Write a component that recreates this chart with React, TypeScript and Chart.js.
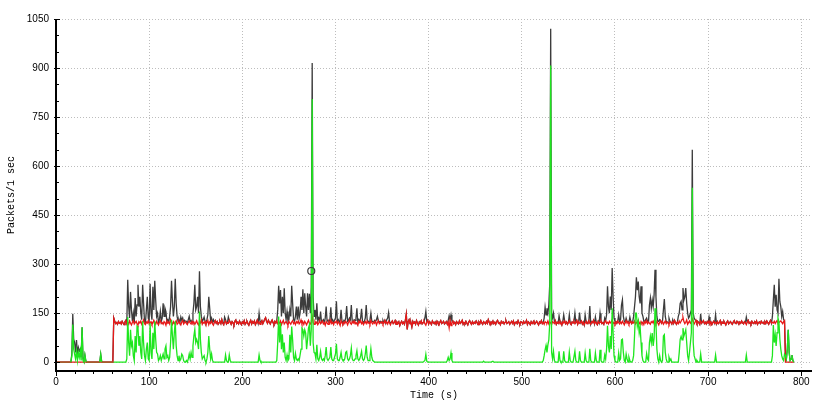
import React, { useEffect, useRef } from "react";
import { Chart, registerables } from "chart.js";

Chart.register(...registerables);

// Packets per 1-second interval, index = second (0 .. 792)
const totalPackets: number[] = [
  0,0,0,0,0,0,0,0,0,0, // 0
  0,0,0,0,0,0,0,25,148,70, // 10
  60,30,68,25,45,35,40,15,107,10, // 20
  3,22,5,0,0,0,0,0,0,0, // 30
  0,0,0,0,0,0,0,0,24,3, // 40
  0,0,0,0,0,0,0,0,0,0, // 50
  0,0,135,126,118,121,116,124,119,122, // 60
  117,125,120,115,123,128,118,252,170,135, // 70
  215,160,125,150,120,196,140,175,237,170, // 80
  200,150,130,237,180,125,120,160,200,135, // 90
  125,240,150,130,231,160,249,190,140,150, // 100
  120,130,155,125,135,180,140,165,155,125, // 110
  130,123,140,170,249,185,140,170,255,180, // 120
  140,125,130,120,138,128,135,122,128,124, // 130
  125,118,130,140,125,128,120,150,180,237, // 140
  160,170,200,150,278,170,140,125,130,138, // 150
  125,120,130,145,200,165,125,135,122,130, // 160
  122,127,119,124,116,121,125,118,130,120, // 170
  115,138,130,117,121,138,128,122,116,124, // 180
  120,114,125,129,118,122,117,126,120,115, // 190
  123,119,127,116,121,125,118,113,122,128, // 200
  117,124,120,126,115,121,129,119,150,125, // 210
  122,127,118,124,131,136,125,119,128,122, // 220
  117,124,129,121,116,125,120,127,160,234, // 230
  180,221,140,200,150,226,150,130,155,125, // 240
  130,160,140,234,180,130,125,140,170,130, // 250
  170,135,150,200,160,223,150,211,170,140, // 260
  211,160,209,150,230,915,200,140,160,130, // 270
  180,125,135,128,155,122,126,130,121,135, // 280
  170,125,128,125,130,168,125,130,122,128, // 290
  135,186,125,130,122,128,160,125,120,128, // 300
  125,135,172,125,128,135,130,175,125,122, // 310
  130,128,135,165,120,130,125,135,163,125, // 320
  122,125,135,175,130,125,122,130,150,125, // 330
  125,123,128,125,130,140,127,122,125,120, // 340
  124,128,121,128,119,130,135,152,124,120, // 350
  122,126,118,121,127,116,123,119,124,112, // 360
  120,125,118,122,116,128,147,100,124,130, // 370
  118,121,108,125,119,123,116,127,120,114, // 380
  123,119,126,117,121,125,135,155,125,128, // 390
  117,124,120,115,126,121,118,123,116,125, // 400
  119,114,122,127,118,121,125,117,120,124, // 410
  116,128,142,130,145,126,126,118,122,115, // 420
  124,120,117,126,119,122,128,116,121,118, // 430
  125,119,114,123,127,120,116,124,118,122, // 440
  119,126,121,115,123,118,127,120,116,124, // 450
  121,117,125,119,130,122,115,123,120,126, // 460
  118,122,116,124,128,119,121,115,125,120, // 470
  123,117,122,127,118,121,124,116,120,125, // 480
  119,126,115,121,123,118,127,120,116,124, // 490
  122,117,125,119,121,128,116,123,120,115, // 500
  124,118,122,126,117,121,125,119,114,123, // 510
  120,127,118,122,135,168,145,165,150,175, // 520
  240,1020,150,135,150,125,127,116,122,119, // 530
  142,125,121,114,124,145,126,118,123,116, // 540
  121,145,119,115,123,120,125,150,122,128, // 550
  116,124,152,121,126,117,123,114,145,125, // 560
  118,122,127,172,116,124,121,128,117,138, // 570
  120,115,125,119,150,126,118,121,116,135, // 580
  127,145,232,170,150,201,160,288,200,135, // 590
  125,124,119,126,145,125,130,175,191,140, // 600
  125,122,135,125,124,122,138,125,118,123, // 610
  140,170,200,260,220,247,200,180,232,150, // 620
  140,125,125,130,135,125,123,175,196,165, // 630
  190,170,206,283,200,140,125,125,130,127, // 640
  119,124,160,193,140,125,123,120,135,125, // 650
  122,117,130,119,128,121,116,123,140,150, // 660
  180,186,160,227,190,200,227,180,150,135, // 670
  140,150,160,650,150,135,130,128,119,124, // 680
  121,116,148,119,123,127,118,122,117,124, // 690
  120,138,118,123,115,121,125,119,145,117, // 700
  124,118,121,127,116,123,119,125,120,114, // 710
  122,126,117,121,124,119,116,123,127,120, // 720
  118,125,121,116,123,119,126,120,117,124, // 730
  121,138,123,128,119,122,117,125,120,118, // 740
  124,119,126,116,121,123,118,125,120,122, // 750
  117,124,119,126,121,116,123,128,119,140, // 760
  190,237,170,206,160,150,255,185,170,140, // 770
  155,130,127,20,10,40,99,30,5,10, // 780
  22,5,0, // 790
];

const redPackets: number[] = [
  0,0,0,0,0,0,0,0,0,0, // 0
  0,0,0,0,0,0,0,0,0,0, // 10
  0,0,0,0,0,0,0,0,0,0, // 20
  0,0,0,0,0,0,0,0,0,0, // 30
  0,0,0,0,0,0,0,0,0,0, // 40
  0,0,0,0,0,0,0,0,0,0, // 50
  0,0,135,126,118,121,116,124,119,122, // 60
  117,125,120,115,123,128,118,121,116,126, // 70
  119,114,122,127,117,121,125,118,113,124, // 80
  120,126,116,122,129,118,115,123,120,127, // 90
  117,121,124,115,119,128,122,116,125,119, // 100
  114,122,127,118,121,116,124,120,113,126, // 110
  119,123,117,130,121,115,124,118,122,127, // 120
  116,120,125,119,114,123,128,117,121,124, // 130
  118,115,122,126,120,117,125,119,123,116, // 140
  121,127,118,114,124,120,129,116,122,119, // 150
  125,117,121,128,115,123,119,126,118,113, // 160
  122,127,119,124,116,121,125,118,130,120, // 170
  115,123,126,117,121,119,128,122,116,124, // 180
  120,114,125,129,118,122,117,126,120,115, // 190
  123,119,127,116,121,125,118,113,122,128, // 200
  117,124,120,126,115,121,129,119,123,116, // 210
  122,127,118,124,131,136,125,119,128,122, // 220
  117,124,129,121,116,125,120,127,118,123, // 230
  119,126,115,122,128,117,121,124,119,113, // 240
  125,120,116,123,127,118,122,115,124,120, // 250
  126,117,121,129,118,123,116,125,120,114, // 260
  122,128,119,117,124,140,121,116,125,119, // 270
  123,115,120,127,118,122,126,117,121,113, // 280
  124,120,116,125,119,128,118,122,115,123, // 290
  121,126,117,124,119,112,127,120,116,123, // 300
  118,125,121,114,122,128,119,116,124,120, // 310
  126,117,122,119,113,125,121,127,118,123, // 320
  115,120,124,118,126,119,122,116,128,121, // 330
  117,123,119,125,114,121,127,118,122,120, // 340
  124,116,121,128,119,123,117,125,120,114, // 350
  122,126,118,121,127,116,123,119,124,112, // 360
  120,125,118,122,116,128,147,100,124,130, // 370
  118,121,108,125,119,123,116,127,120,114, // 380
  123,119,126,117,121,125,118,113,122,128, // 390
  117,124,120,115,126,121,118,123,116,125, // 400
  119,114,122,127,118,121,125,117,120,124, // 410
  116,123,105,128,112,121,126,118,122,115, // 420
  124,120,117,126,119,122,128,116,121,118, // 430
  125,119,114,123,127,120,116,124,118,122, // 440
  119,126,121,115,123,118,127,120,116,124, // 450
  121,117,125,119,130,122,115,123,120,126, // 460
  118,122,116,124,128,119,121,115,125,120, // 470
  123,117,122,127,118,121,124,116,120,125, // 480
  119,126,115,121,123,118,127,120,116,124, // 490
  122,117,125,119,121,128,116,123,120,115, // 500
  124,118,122,126,117,121,125,119,114,123, // 510
  120,127,118,122,116,124,121,119,126,117, // 520
  123,120,115,124,121,118,127,116,122,119, // 530
  125,117,121,114,124,120,126,118,123,116, // 540
  121,127,119,115,123,120,125,118,122,128, // 550
  116,124,119,121,126,117,123,114,120,125, // 560
  118,122,127,119,116,124,121,128,117,123, // 570
  120,115,125,119,122,126,118,121,116,124, // 580
  127,119,122,117,125,120,123,130,118,121, // 590
  116,124,119,126,121,117,123,118,125,120, // 600
  114,122,127,119,124,116,121,125,118,123, // 610
  120,126,117,122,119,128,121,116,124,118, // 620
  122,115,125,120,127,118,123,119,116,124, // 630
  121,126,118,123,117,125,120,114,122,127, // 640
  119,124,116,121,126,118,123,120,115,125, // 650
  122,117,124,119,128,121,116,123,118,126, // 660
  120,125,131,137,124,118,122,129,116,121, // 670
  126,119,123,132,125,117,122,128,119,124, // 680
  121,116,125,119,123,127,118,122,117,124, // 690
  120,126,118,123,115,121,125,119,122,117, // 700
  124,118,121,127,116,123,119,125,120,114, // 710
  122,126,117,121,124,119,116,123,127,120, // 720
  118,125,121,116,123,119,126,120,117,124, // 730
  121,115,123,128,119,122,117,125,120,118, // 740
  124,119,126,116,121,123,118,125,120,122, // 750
  117,124,119,126,121,116,123,128,119,122, // 760
  120,125,118,123,127,119,121,124,126,122, // 770
  118,124,127,0,0,0,0,0,0,0, // 780
  0,0,0, // 790
];

const greenPackets: number[] = [
  0,0,0,0,0,0,0,0,0,0, // 0
  0,0,0,0,0,0,0,20,115,40, // 10
  25,10,35,5,30,15,35,5,107,5, // 20
  0,22,3,0,0,0,0,0,0,0, // 30
  0,0,0,0,0,0,0,0,24,0, // 40
  0,0,0,0,0,0,0,0,0,0, // 50
  0,0,0,0,0,0,0,0,0,0, // 60
  0,0,0,0,0,0,10,138,60,20, // 70
  99,50,60,20,5,80,30,110,105,50, // 80
  80,30,10,125,60,20,5,40,60,10, // 90
  5,120,30,10,90,40,125,70,30,25, // 100
  5,10,20,5,15,25,10,40,50,15, // 110
  20,5,15,60,130,80,40,90,125,50, // 120
  20,5,20,5,10,25,20,5,0,0, // 130
  5,0,10,25,10,30,15,50,80,100, // 140
  60,70,60,40,155,70,30,10,15,20, // 150
  5,0,10,30,80,40,10,25,5,0, // 160
  0,0,0,0,0,0,0,0,0,0, // 170
  0,0,22,5,0,0,22,5,0,0, // 180
  0,0,0,0,0,0,0,0,0,0, // 190
  0,0,0,0,0,0,0,0,0,0, // 200
  0,0,0,0,0,0,0,0,22,5, // 210
  0,0,0,0,0,0,0,0,0,0, // 220
  0,0,0,0,0,0,0,5,60,140, // 230
  60,120,40,85,30,60,15,5,22,5, // 240
  10,84,30,109,68,15,5,27,10,5, // 250
  10,5,22,40,104,99,80,99,89,40, // 260
  68,104,114,50,100,805,60,30,27,10, // 270
  53,10,5,15,33,10,5,10,5,20, // 280
  46,10,5,5,15,46,10,5,5,15, // 290
  25,56,10,5,5,15,30,10,5,5, // 300
  10,30,33,10,5,10,20,43,10,5, // 310
  5,10,20,35,10,5,10,20,33,10, // 320
  5,10,25,51,15,5,5,15,41,15, // 330
  5,3,0,0,0,0,0,0,0,0, // 340
  0,0,0,0,0,0,0,0,0,0, // 350
  0,0,0,0,0,0,0,0,0,0, // 360
  0,0,0,0,0,0,0,0,0,0, // 370
  0,0,0,0,0,0,0,0,0,0, // 380
  0,0,0,0,0,0,5,24,3,0, // 390
  0,0,0,0,0,0,0,0,0,0, // 400
  0,0,0,0,0,0,0,0,0,0, // 410
  5,15,5,10,28,5,0,0,0,0, // 420
  0,0,0,0,0,0,0,0,0,0, // 430
  0,0,0,0,0,0,0,0,0,0, // 440
  0,0,0,0,0,0,0,0,0,3, // 450
  0,0,0,0,0,0,0,0,0,3, // 460
  0,0,0,0,0,0,0,0,0,0, // 470
  0,0,0,0,0,0,0,0,0,0, // 480
  0,0,0,0,0,0,0,0,0,0, // 490
  0,0,0,0,0,0,0,0,0,0, // 500
  0,0,0,0,0,0,0,0,0,0, // 510
  0,0,0,5,20,38,51,30,53,68, // 520
  120,908,30,10,33,5,0,0,0,0, // 530
  33,5,0,0,0,33,5,0,0,0, // 540
  0,31,5,0,0,0,0,33,5,0, // 550
  0,0,33,5,0,0,0,0,28,5, // 560
  0,0,0,41,5,0,0,0,0,28, // 570
  5,0,0,0,38,5,0,0,0,22, // 580
  10,40,111,50,30,80,40,165,90,20, // 590
  5,0,0,0,28,5,10,68,70,30, // 600
  5,0,25,10,0,15,5,0,0,5, // 610
  20,80,150,150,110,125,90,109,60,20, // 620
  5,0,0,0,26,10,5,60,80,60, // 630
  89,50,73,165,120,40,10,0,20,5, // 640
  0,5,80,84,30,10,0,0,15,5, // 650
  10,0,0,0,0,0,0,0,0,30, // 660
  70,79,68,104,80,89,99,60,20,5, // 670
  30,60,90,534,60,20,10,0,5,0, // 680
  0,0,25,0,0,0,0,0,0,0, // 690
  0,0,0,0,0,0,0,0,22,0, // 700
  0,0,0,0,0,0,0,0,0,0, // 710
  0,0,0,0,0,0,0,0,0,0, // 720
  0,0,0,0,0,0,0,0,0,0, // 730
  0,22,0,0,0,0,0,0,0,0, // 740
  0,0,0,0,0,0,0,0,0,0, // 750
  0,0,0,0,0,0,0,0,0,20, // 760
  114,60,84,50,90,135,124,70,40,20, // 770
  10,5,25,20,10,40,99,30,5,10, // 780
  22,5,0, // 790
];

// Clicked-point marker
const markerTimes: number[] = [274];
const markerValues: number[] = [279];

const xMajorTicks: number[] = [0, 100, 200, 300, 400, 500, 600, 700, 800];
const yMajorTicks: number[] = [0, 150, 300, 450, 600, 750, 900, 1050];

const X_MIN = 0;
const X_MAX = 811.5;
const Y_MIN = -27;
const Y_MAX = 1050;

const BLACK = "#3c3c3c";
const RED = "#e81818";
const GREEN = "#1ee61e";
const BROWN = "#a0662c";

const toPoints = (arr: number[]) => arr.map((v, i) => ({ x: i, y: v }));

const axisDecor = {
  id: "axisDecor",
  afterDraw(chart: any) {
    const { ctx, chartArea: a, scales } = chart;
    const x = scales.x;
    const y = scales.y;
    ctx.save();
    ctx.strokeStyle = "#000";
    ctx.lineWidth = 1;
    ctx.beginPath();
    for (let v = 0; v <= 800; v += 20) {
      const px = Math.round(x.getPixelForValue(v)) + 0.5;
      const len = v % 100 === 0 ? 5 : 3;
      ctx.moveTo(px, a.bottom);
      ctx.lineTo(px, a.bottom + len);
    }
    for (let v = 0; v <= 1050; v += 50) {
      const py = Math.round(y.getPixelForValue(v)) + 0.5;
      const major = v % 150 === 0;
      ctx.moveTo(a.left - (major ? 2 : 0), py);
      ctx.lineTo(a.left + (major ? 4 : 3), py);
    }
    ctx.stroke();
    ctx.lineWidth = 2;
    ctx.beginPath();
    ctx.moveTo(a.left, a.top);
    ctx.lineTo(a.left, a.bottom + 1);
    ctx.moveTo(a.left - 1, a.bottom);
    ctx.lineTo(a.right, a.bottom);
    ctx.stroke();
    ctx.restore();
  },
};

export default function App() {
  const ref = useRef<HTMLCanvasElement | null>(null);

  useEffect(() => {
    if (!ref.current) return;
    const redStart = redPackets.findIndex((v) => v > 0);
    const tickFont = { family: "'Liberation Sans', Arial, sans-serif", size: 10 };
    const titleFont = { family: "'Liberation Mono', 'Courier New', monospace", size: 10 };

    const chart = new Chart(ref.current, {
      type: "line",
      data: {
        datasets: [
          {
            label: "Marker",
            data: markerTimes.map((t, i) => ({ x: t, y: markerValues[i] })),
            showLine: false,
            pointRadius: 3.5,
            pointBorderWidth: 1.2,
            pointBorderColor: "#3a3a3a",
            pointBackgroundColor: "rgba(0,0,0,0)",
            order: 0,
          },
          {
            label: "Green",
            data: toPoints(greenPackets),
            borderColor: GREEN,
            borderWidth: 1.3,
            pointRadius: 0,
            tension: 0,
            order: 1,
            segment: {
              borderColor: (c: any) =>
                c.p0.parsed.y === 0 && c.p1.parsed.y === 0 && c.p1.parsed.x <= redStart
                  ? BROWN
                  : undefined,
            },
          },
          {
            label: "Red",
            data: toPoints(redPackets),
            borderColor: RED,
            borderWidth: 1.3,
            pointRadius: 0,
            tension: 0,
            order: 2,
          },
          {
            label: "Total",
            data: toPoints(totalPackets),
            borderColor: BLACK,
            borderWidth: 1.3,
            pointRadius: 0,
            tension: 0,
            order: 3,
          },
        ],
      },
      options: {
        responsive: false,
        animation: false,
        devicePixelRatio: 1,
        parsing: false,
        normalized: true,
        layout: { padding: { top: 19, right: 15, left: 0, bottom: 0 } },
        plugins: {
          legend: { display: false },
          tooltip: { enabled: false },
        },
        scales: {
          x: {
            type: "linear",
            min: X_MIN,
            max: X_MAX,
            afterBuildTicks: (s: any) => {
              s.ticks = xMajorTicks.map((v) => ({ value: v }));
            },
            afterFit: (s: any) => {
              s.height = 35;
            },
            ticks: {
              font: tickFont,
              color: "#000",
              padding: 5,
              maxRotation: 0,
              autoSkip: false,
              callback: (v: any) => String(v),
            },
            grid: { color: "#bdbdbd", lineWidth: 1, drawTicks: false },
            border: { display: false, dash: [1, 2] },
            title: {
              display: true,
              text: "Time (s)",
              font: titleFont,
              color: "#000",
              padding: { top: 0, bottom: 5 },
            },
          },
          y: {
            type: "linear",
            min: Y_MIN,
            max: Y_MAX,
            afterBuildTicks: (s: any) => {
              s.ticks = yMajorTicks.map((v) => ({ value: v }));
            },
            afterFit: (s: any) => {
              s.width = 56;
            },
            ticks: {
              font: tickFont,
              color: "#000",
              padding: 7,
              autoSkip: false,
              callback: (v: any) => String(v),
            },
            grid: { color: "#bdbdbd", lineWidth: 1, drawTicks: false },
            border: { display: false, dash: [1, 2] },
            title: {
              display: true,
              text: "Packets/1 sec",
              font: titleFont,
              color: "#000",
              padding: { top: 5, bottom: 0 },
            },
          },
        },
      },
      plugins: [axisDecor],
    } as any);

    return () => chart.destroy();
  }, []);

  return (
    <div style={{ position: "fixed", left: 0, top: 0, width: 827, height: 406, background: "#fff" }}>
      <canvas ref={ref} width={827} height={406} style={{ display: "block", width: 827, height: 406 }} />
    </div>
  );
}
